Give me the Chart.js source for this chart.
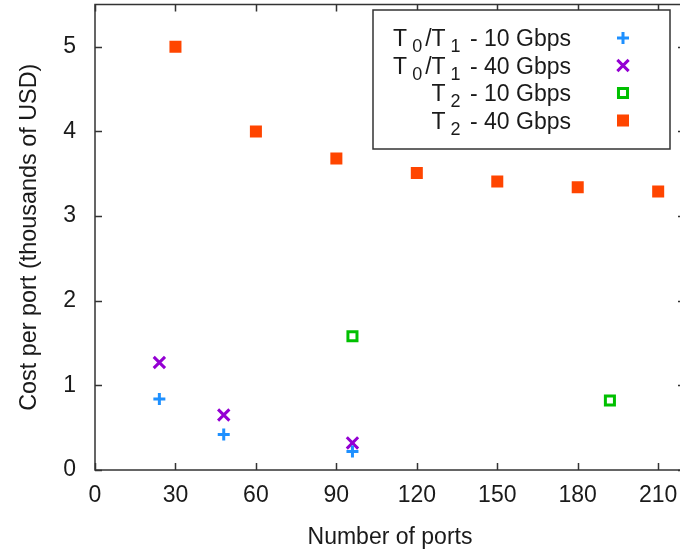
<!DOCTYPE html>
<html>
<head>
<meta charset="utf-8">
<script src="https://cdn.jsdelivr.net/npm/chart.js@4/dist/chart.umd.min.js"></script>
<style>
  html, body { margin: 0; padding: 0; background: #fff; overflow: hidden; }
  #wrap { width: 680px; height: 554px; overflow: hidden; }
</style>
</head>
<body>
<div id="wrap"><canvas id="grafico" width="692" height="554"></canvas></div>
<script>
// dados
const portas10 = [24, 48, 96];
const t01_10g = [0.84, 0.42, 0.22];
const t01_40g = [1.27, 0.65, 0.32];
const portasT2_10 = [96, 192];
const t2_10g = [1.58, 0.82];
const portasT2_40 = [30, 60, 90, 120, 150, 180, 210];
const t2_40g = [5.0, 4.0, 3.68, 3.51, 3.41, 3.34, 3.29];

const nomes = ['T_0/T_1 - 10 Gbps', 'T_0/T_1 - 40 Gbps', 'T_2 - 10 Gbps', 'T_2 - 40 Gbps'];
const xTicks = [0, 30, 60, 90, 120, 150, 180, 210];
const yTicks = [0, 1, 2, 3, 4, 5];

const paleta = {
    azul: '#1e90ff',
    violeta: '#9400d3',
    verde: '#00c000',
    laranja: '#ff4500',
    moldura: '#333333',
    texto: '#1a1a1a'
};
const fonte = '"Liberation Sans", Arial, sans-serif';

const pontos = (xs, ys) => xs.map((x, i) => ({ x: x, y: ys[i] }));

// moldura com ticks para dentro (estilo gnuplot)
const moldura = {
    id: 'moldura',
    afterDatasetsDraw(chart) {
        const { ctx, chartArea: a, scales: { x, y } } = chart;
        const tl = 7;
        ctx.save();
        ctx.strokeStyle = paleta.moldura;
        ctx.lineWidth = 1.5;
        ctx.strokeRect(a.left, a.top, a.right - a.left, a.bottom - a.top);
        ctx.beginPath();
        xTicks.forEach(v => {
            const px = Math.round(x.getPixelForValue(v)) + 0.5;
            ctx.moveTo(px, a.bottom); ctx.lineTo(px, a.bottom - tl);
            ctx.moveTo(px, a.top); ctx.lineTo(px, a.top + tl);
        });
        yTicks.forEach(v => {
            const py = Math.round(y.getPixelForValue(v)) + 0.5;
            ctx.moveTo(a.left, py); ctx.lineTo(a.left + tl, py);
            ctx.moveTo(a.right, py); ctx.lineTo(a.right - tl, py);
        });
        ctx.stroke();
        ctx.restore();
    }
};

// legenda com subscritos
const legenda = {
    id: 'legenda',
    afterDraw(chart) {
        const { ctx } = chart;
        const box = { x: 373, y: 10, w: 297, h: 139 };
        const textoDir = 571, simboloX = 623, y0 = 38, passo = 27.5;
        const tam = 23;
        ctx.save();
        ctx.fillStyle = '#fff';
        ctx.fillRect(box.x, box.y, box.w, box.h);
        ctx.strokeStyle = paleta.moldura;
        ctx.lineWidth = 1.5;
        ctx.strokeRect(box.x, box.y, box.w, box.h);
        ctx.textBaseline = 'alphabetic';
        nomes.forEach((nome, i) => {
            const cy = y0 + i * passo;
            const base = cy + 8;
            // separa em pedacos normais e subscritos
            const partes = [];
            nome.split(/(_\w)/).forEach(p => {
                if (!p) return;
                if (p[0] === '_') partes.push({ t: p.slice(1), sub: true });
                else partes.push({ t: p, sub: false });
            });
            const larg = partes.map(p => {
                ctx.font = (p.sub ? Math.round(tam * 0.8) : tam) + 'px ' + fonte;
                return ctx.measureText(p.t).width + (p.sub ? 8 : 0);
            });
            let px = textoDir - larg.reduce((s, w) => s + w, 0);
            partes.forEach((p, j) => {
                ctx.font = (p.sub ? Math.round(tam * 0.8) : tam) + 'px ' + fonte;
                ctx.fillStyle = paleta.texto;
                ctx.fillText(p.t, px + (p.sub ? 5 : 0), base + (p.sub ? 6 : 0));
                px += larg[j];
            });
            const ds = chart.data.datasets[i];
            ctx.strokeStyle = ds.borderColor;
            ctx.fillStyle = ds.backgroundColor;
            ctx.lineWidth = ds.borderWidth;
            Chart.helpers.drawPoint(ctx, {
                pointStyle: ds.pointStyle,
                radius: ds.pointRadius,
                borderWidth: ds.borderWidth,
                rotation: 0
            }, simboloX, cy);
        });
        ctx.restore();
    }
};

const ctxGrafico = document.getElementById('grafico');
new Chart(ctxGrafico, {
    type: 'scatter',
    data: {
        datasets: [{
            label: nomes[0],
            data: pontos(portas10, t01_10g),
            pointStyle: 'cross',
            pointRadius: 6,
            borderWidth: 3,
            borderColor: paleta.azul,
            backgroundColor: paleta.azul
        }, {
            label: nomes[1],
            data: pontos(portas10, t01_40g),
            pointStyle: 'crossRot',
            pointRadius: 8,
            borderWidth: 3,
            borderColor: paleta.violeta,
            backgroundColor: paleta.violeta
        }, {
            label: nomes[2],
            data: pontos(portasT2_10, t2_10g),
            pointStyle: 'rect',
            pointRadius: 6.4,
            borderWidth: 3,
            borderColor: paleta.verde,
            backgroundColor: '#ffffff'
        }, {
            label: nomes[3],
            data: pontos(portasT2_40, t2_40g),
            pointStyle: 'rect',
            pointRadius: 8.5,
            borderWidth: 0,
            borderColor: paleta.laranja,
            backgroundColor: paleta.laranja
        }]
    },
    options: {
        responsive: false,
        animation: false,
        devicePixelRatio: 1,
        layout: { autoPadding: false, padding: { top: 4.5, right: 7, left: 0, bottom: 0 } },
        plugins: {
            legend: { display: false },
            tooltip: { enabled: false }
        },
        scales: {
            x: {
                type: 'linear',
                min: 0,
                max: 220,
                afterBuildTicks: s => { s.ticks = xTicks.map(v => ({ value: v })); },
                afterFit: s => { s.height = 84; s.paddingLeft = 0; s.paddingRight = 0; },
                grid: { display: false, drawTicks: false },
                border: { display: false },
                ticks: { color: paleta.texto, padding: 12, font: { family: fonte, size: 23 } },
                title: {
                    display: true,
                    text: 'Number of ports',
                    color: paleta.texto,
                    font: { family: fonte, size: 23 },
                    padding: { top: 0, bottom: 3 }
                }
            },
            y: {
                min: 0,
                max: 5.5,
                afterBuildTicks: s => { s.ticks = yTicks.map(v => ({ value: v })); },
                afterFit: s => { s.width = 95; s.paddingTop = 0; s.paddingBottom = 0; },
                grid: { display: false, drawTicks: false },
                border: { display: false },
                ticks: { color: paleta.texto, padding: 19, font: { family: fonte, size: 23 } },
                title: {
                    display: true,
                    text: 'Cost per port (thousands of USD)',
                    color: paleta.texto,
                    font: { family: fonte, size: 23.4 },
                    padding: { top: 16, bottom: 0 }
                }
            }
        }
    },
    plugins: [moldura, legenda]
});
</script>
</body>
</html>
